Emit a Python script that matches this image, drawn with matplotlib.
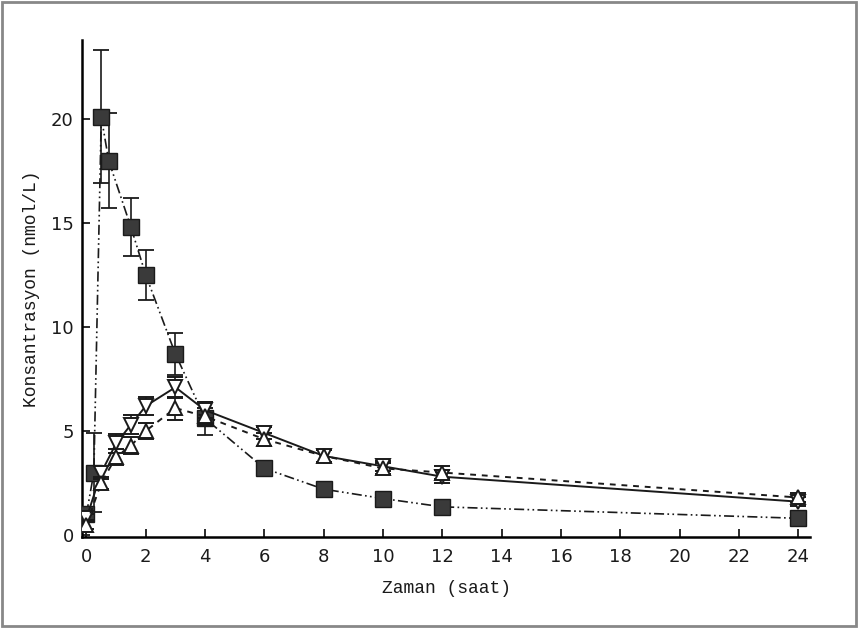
import matplotlib
matplotlib.use("Agg")
import matplotlib.pyplot as plt
from matplotlib.patches import Rectangle

# Data
t_sq = [0, 0.25, 0.5, 0.75, 1.5, 2, 3, 4, 6, 8, 10, 12, 24]
y_sq = [1.0, 3.0, 20.1, 18.0, 14.8, 12.5, 8.7, 5.6, 3.2, 2.2, 1.75, 1.35, 0.8]
e_sq = [0.3, 1.9, 3.2, 2.3, 1.4, 1.2, 1.0, 0.8, 0.25, 0.2, 0.15, 0.15, 0.1]

t_dn = [0, 0.5, 1, 1.5, 2, 3, 4, 6, 8, 10, 12, 24]
y_dn = [0.8, 3.0, 4.4, 5.3, 6.2, 7.1, 6.0, 4.9, 3.8, 3.3, 2.8, 1.6]
e_dn = [0.2, 0.3, 0.45, 0.45, 0.45, 0.5, 0.4, 0.3, 0.3, 0.25, 0.3, 0.2]

t_up = [0, 0.5, 1, 1.5, 2, 3, 4, 6, 8, 10, 12, 24]
y_up = [0.5, 2.5, 3.75, 4.3, 5.0, 6.1, 5.7, 4.6, 3.8, 3.2, 3.0, 1.8]
e_up = [0.2, 0.3, 0.4, 0.4, 0.4, 0.55, 0.4, 0.3, 0.3, 0.25, 0.3, 0.2]

x_ticks = [0, 2, 4, 6, 8, 10, 12, 14, 16, 18, 20, 22, 24]
y_ticks = [0, 5, 10, 15, 20]

fig = plt.figure(figsize=(8.58, 6.28), dpi=100)
fig.patch.set_facecolor("white")
ax = fig.add_axes([82/858, 1 - 537/628, (810-82)/858, (537-40)/628])

ink = "#1a1a1a"

ax.errorbar(t_sq, y_sq, yerr=e_sq, color=ink, lw=1.2, linestyle=(0, (6, 2, 1, 2, 1, 2)),
            marker="s", markersize=11.5, markerfacecolor="#3a3a3a", markeredgecolor=ink,
            ecolor=ink, elinewidth=1.2, capsize=6, capthick=1.3, zorder=3)
ax.errorbar(t_dn, y_dn, yerr=e_dn, color=ink, lw=1.4, linestyle="-",
            marker="v", markersize=10, markerfacecolor="white", markeredgecolor=ink,
            markeredgewidth=1.4, ecolor=ink, elinewidth=1.2, capsize=6, capthick=1.3, zorder=4)
ax.errorbar(t_up, y_up, yerr=e_up, color=ink, lw=1.4, linestyle=(0, (3, 3)),
            marker="^", markersize=10, markerfacecolor="white", markeredgecolor=ink,
            markeredgewidth=1.4, ecolor=ink, elinewidth=1.2, capsize=6, capthick=1.3, zorder=4)

ax.set_xlim(-0.15, 24.4)
ax.set_ylim(-0.1, 23.8)
ax.spines["top"].set_visible(False)
ax.spines["right"].set_visible(False)
ax.spines["left"].set_linewidth(1.8)
ax.spines["bottom"].set_linewidth(1.8)
ax.spines["left"].set_bounds(-0.1, 23.8)
ax.set_xticks(x_ticks)
ax.set_yticks(y_ticks)
ax.tick_params(direction="in", length=6, width=1.3, labelsize=13, colors=ink)
ax.tick_params(axis="x", pad=8)
ax.tick_params(axis="y", pad=6)

ax.set_xlabel("Zaman (saat)", family="Liberation Mono", fontsize=13, labelpad=10, color=ink)
ax.set_ylabel("Konsantrasyon (nmol/L)", family="Liberation Mono", fontsize=13, labelpad=8, color=ink)

fig.patches.append(Rectangle((0.002, 0.003), 0.996, 0.994, transform=fig.transFigure,
                             fill=False, edgecolor="#888888", lw=2))

fig.savefig("out.png", dpi=100)
